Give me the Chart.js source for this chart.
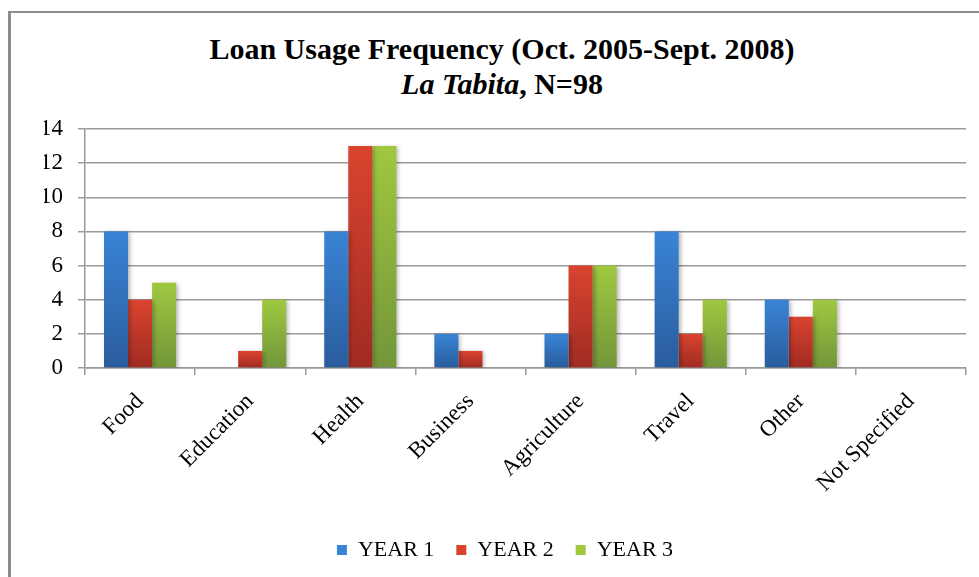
<!DOCTYPE html>
<html>
<head>
<meta charset="utf-8">
<script src="https://cdn.jsdelivr.net/npm/chart.js@4"></script>
<style>
  html, body { margin: 0; padding: 0; background: #fff; }
  #wrap { position: relative; width: 979px; height: 577px; overflow: hidden; }
  #frame { position: absolute; left: 8px; top: 11px; width: 990px; height: 600px;
           border-top: 2px solid #8c8c8c; border-left: 3px solid #8c8c8c; }
  .title { position: absolute; left: 0; width: 1004px; text-align: center;
           font-family: "Liberation Serif", serif; font-weight: bold; font-size: 30px; color: #000; }
  #t1 { top: 32px; }
  #t2 { top: 67px; }
  canvas { position: absolute; left: 0; top: 0; }
</style>
</head>
<body>
<div id="wrap">
  <div id="frame"></div>
  <div class="title" id="t1">Loan Usage Frequency (Oct. 2005-Sept. 2008)</div>
  <div class="title" id="t2"><i>La Tabita</i>, N=98</div>
  <canvas id="myChart" width="979" height="577"></canvas>
</div>
<script>
// DATA
const categories = ["Food", "Education", "Health", "Business", "Agriculture", "Travel", "Other", "Not Specified"];
const year1 = [8, 0, 8, 2, 2, 8, 4, 0];
const year2 = [4, 1, 13, 1, 6, 2, 3, 0];
const year3 = [5, 4, 13, 0, 6, 4, 4, 0];
const seriesNames = ["YEAR 1", "YEAR 2", "YEAR 3"];
const yTicks = [0, 2, 4, 6, 8, 10, 12, 14];

// top / bottom shade of each series
const shades = [
  ['#3a84d6', '#295c9c'],
  ['#d9442f', '#a02b22'],
  ['#9fc83f', '#72963a']
];

function barFill(i) {
  return function(context) {
    const chart = context.chart;
    const y = chart.scales.y;
    if (!chart.chartArea || !y || context.type !== 'data') return shades[i][0];
    const v = context.raw || 0;
    const top = y.getPixelForValue(v);
    const bottom = y.getPixelForValue(0);
    if (bottom - top < 1) return shades[i][0];
    const g = chart.ctx.createLinearGradient(0, top, 0, bottom);
    g.addColorStop(0, shades[i][0]);
    g.addColorStop(1, shades[i][1]);
    return g;
  };
}

// soft shadow on the bars
const barShadow = {
  id: 'barShadow',
  beforeDatasetsDraw(chart) {
    const ctx = chart.ctx;
    ctx.save();
    ctx.shadowColor = 'rgba(0,0,0,0.28)';
    ctx.shadowBlur = 4;
    ctx.shadowOffsetX = 2;
    ctx.shadowOffsetY = 1;
  },
  afterDatasetsDraw(chart) {
    chart.ctx.restore();
  }
};

const serif = "'Liberation Serif', 'Times New Roman', serif";
const allData = [year1, year2, year3];

let config = {
  type: 'bar',
  data: {
    labels: categories,
    datasets: seriesNames.map(function(name, i) {
      return {
        label: name,
        data: allData[i],
        backgroundColor: barFill(i),
        borderWidth: 0,
        categoryPercentage: 0.655,
        barPercentage: 1.0
      };
    })
  },
  options: {
    responsive: false,
    animation: false,
    layout: { padding: { left: 44, right: 13, top: 129, bottom: 6 } },
    plugins: {
      title: { display: false },
      tooltip: { enabled: false },
      legend: {
        position: 'bottom',
        labels: {
          font: { family: serif, size: 22 },
          color: '#000',
          boxWidth: 10,
          boxHeight: 10,
          padding: 22,
          generateLabels: function(chart) {
            return chart.data.datasets.map(function(ds, i) {
              return {
                text: ds.label,
                fillStyle: shades[i][0],
                strokeStyle: shades[i][0],
                lineWidth: 0,
                datasetIndex: i
              };
            });
          }
        }
      }
    },
    scales: {
      x: {
        grid: {
          offset: true,
          drawOnChartArea: false,
          drawTicks: true,
          tickLength: 7,
          color: '#9a9a9a',
          lineWidth: 1.5
        },
        border: { color: '#9a9a9a', width: 1.5 },
        ticks: {
          font: { family: serif, size: 23 },
          color: '#000',
          minRotation: 45,
          maxRotation: 45,
          padding: 13
        },
        afterFit: function(scale) { scale.height = 149; }
      },
      y: {
        min: 0,
        max: 14,
        afterBuildTicks: function(scale) {
          scale.ticks = yTicks.map(function(v) { return { value: v }; });
        },
        grid: {
          color: '#9a9a9a',
          lineWidth: 1.5,
          tickLength: 7
        },
        border: { color: '#9a9a9a', width: 1.5 },
        ticks: {
          font: { family: serif, size: 23 },
          color: '#000',
          padding: 15
        },
        afterFit: function(scale) { scale.width = 41; }
      }
    }
  },
  plugins: [barShadow]
};

let ctx = document.getElementById("myChart");
let myChart = new Chart(ctx, config);
</script>
</body>
</html>
